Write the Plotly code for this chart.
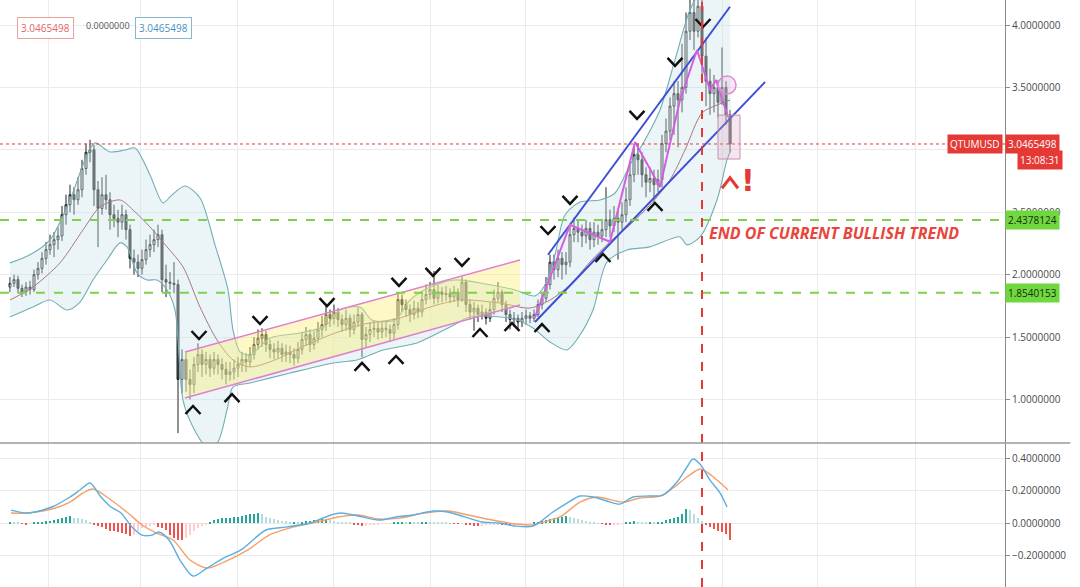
import plotly.graph_objects as go
from plotly.subplots import make_subplots

# ---------------- data (daily QTUMUSD, candle index on x) ----------------
OPEN_FIRST = 1.90
CLOSE = [1.93,1.96,1.89,1.86,1.90,1.88,2.00,2.05,2.13,2.20,
         2.24,2.28,2.31,2.48,2.56,2.64,2.60,2.68,2.85,2.98,
         3.00,2.68,2.53,2.64,2.60,2.48,2.45,2.42,2.48,2.36,
         2.13,2.10,2.05,2.12,2.20,2.24,2.28,2.32,1.96,1.94,
         1.93,1.92,1.16,1.32,1.16,1.12,1.28,1.36,1.28,1.32,
         1.25,1.32,1.28,1.24,1.20,1.22,1.25,1.28,1.32,1.30,
         1.36,1.44,1.49,1.52,1.44,1.40,1.38,1.41,1.36,1.38,
         1.36,1.33,1.40,1.48,1.52,1.44,1.49,1.56,1.60,1.68,
         1.65,1.70,1.64,1.60,1.65,1.56,1.62,1.68,1.48,1.52,
         1.56,1.57,1.54,1.57,1.56,1.53,1.60,1.80,1.76,1.72,
         1.68,1.73,1.70,1.80,1.84,1.88,1.81,1.86,1.84,1.85,
         1.82,1.86,1.80,1.94,1.76,1.70,1.73,1.68,1.70,1.65,
         1.72,1.81,1.86,1.76,1.68,1.64,1.65,1.62,1.65,1.67,
         1.65,1.68,1.76,1.81,1.92,2.10,2.04,2.13,2.08,2.10,
         2.32,2.37,2.34,2.31,2.37,2.28,2.34,2.31,2.36,2.44,
         2.39,2.45,2.42,2.48,2.60,2.80,2.96,2.92,2.80,2.74,
         2.77,2.72,2.76,3.05,3.15,3.35,3.45,3.40,3.50,3.95,
         4.10,3.95,4.15,3.75,3.55,3.45,3.50,3.38,3.50,3.28,
         3.0465498]
HIGH = [1.98,2.00,1.99,1.92,1.94,1.95,2.04,2.10,2.18,2.26,
        2.32,2.34,2.38,2.55,2.64,2.72,2.70,2.78,2.92,3.05,
        3.08,3.04,2.75,2.78,2.80,2.66,2.56,2.52,2.56,2.52,
        2.40,2.20,2.16,2.20,2.28,2.32,2.36,2.40,2.36,2.08,
        2.02,2.10,1.96,1.40,1.38,1.24,1.34,1.45,1.40,1.38,
        1.36,1.38,1.36,1.33,1.30,1.30,1.32,1.34,1.38,1.37,
        1.42,1.50,1.56,1.57,1.55,1.48,1.45,1.47,1.45,1.44,
        1.43,1.41,1.46,1.54,1.58,1.56,1.55,1.62,1.67,1.75,
        1.72,1.76,1.73,1.68,1.72,1.68,1.68,1.74,1.70,1.58,
        1.62,1.63,1.62,1.63,1.62,1.60,1.65,1.86,1.84,1.80,
        1.76,1.79,1.78,1.86,1.92,1.94,2.03,1.92,1.90,1.91,
        1.89,1.91,1.89,1.98,1.96,1.80,1.78,1.76,1.76,1.73,
        1.78,1.88,1.94,1.88,1.79,1.72,1.70,1.68,1.70,1.72,
        1.70,1.72,1.80,1.86,1.98,2.16,2.16,2.20,2.18,2.18,
        2.40,2.46,2.44,2.40,2.44,2.42,2.42,2.40,2.44,2.70,
        2.52,2.55,2.52,2.58,2.70,2.88,3.04,3.05,2.98,2.86,
        2.86,2.84,2.84,3.12,3.25,3.42,3.55,3.55,3.85,4.10,
        4.30,4.25,4.40,4.22,3.90,3.65,3.60,3.56,3.82,3.55,
        3.32]
LOW = [1.86,1.90,1.85,1.82,1.83,1.84,1.86,1.96,2.01,2.08,
       2.16,2.14,2.20,2.27,2.40,2.50,2.48,2.56,2.62,2.80,
       2.90,2.55,2.22,2.48,2.52,2.36,2.38,2.30,2.36,2.28,
       2.05,2.00,1.98,2.00,2.08,2.14,2.18,2.22,1.86,1.82,
       1.88,1.85,0.73,1.05,1.06,1.00,1.05,1.22,1.18,1.20,
       1.18,1.20,1.20,1.16,1.12,1.15,1.16,1.18,1.22,1.22,
       1.26,1.32,1.40,1.42,1.38,1.33,1.32,1.33,1.30,1.30,
       1.29,1.27,1.29,1.36,1.43,1.38,1.40,1.45,1.50,1.55,
       1.58,1.60,1.58,1.54,1.55,1.50,1.52,1.58,1.34,1.42,
       1.46,1.50,1.48,1.49,1.50,1.46,1.48,1.56,1.70,1.66,
       1.62,1.64,1.65,1.66,1.76,1.80,1.76,1.77,1.78,1.79,
       1.77,1.78,1.74,1.78,1.70,1.64,1.55,1.62,1.64,1.60,
       1.62,1.68,1.78,1.70,1.62,1.56,1.58,1.56,1.58,1.60,
       1.61,1.62,1.66,1.72,1.78,1.88,1.96,1.98,1.96,2.00,
       2.06,2.26,2.26,2.22,2.25,2.20,2.22,2.24,2.26,2.30,
       2.30,2.34,2.12,2.36,2.42,2.55,2.74,2.80,2.70,2.62,
       2.66,2.56,2.66,2.70,2.98,3.08,3.12,3.02,3.30,3.45,
       3.88,3.80,3.90,3.55,3.35,3.28,3.30,3.26,3.36,3.20,
       2.98]
HIST = [0.004,0.003,0.002,-0.003,-0.005,-0.004,0.002,0.005,0.008,0.012,
        0.015,0.02,0.025,0.03,0.038,0.042,0.035,0.03,0.025,0.02,
        0.01,-0.005,-0.015,-0.025,-0.035,-0.045,-0.05,-0.055,-0.06,-0.065,
        -0.075,-0.07,-0.045,-0.03,-0.02,-0.015,-0.01,-0.02,-0.03,-0.04,
        -0.07,-0.09,-0.1,-0.105,-0.09,-0.07,-0.05,-0.03,-0.015,-0.005,
        0.01,0.02,0.025,0.03,0.035,0.035,0.04,0.04,0.045,0.05,
        0.055,0.06,0.062,0.055,0.04,0.03,0.025,0.02,0.015,0.012,
        0.008,0.01,0.006,0.008,0.012,0.015,0.018,0.02,0.025,0.028,
        0.022,0.015,0.01,0.008,0.004,0.002,-0.005,-0.012,-0.018,-0.015,
        -0.008,-0.006,-0.005,-0.003,-0.002,-0.001,0.002,0.006,0.008,0.005,
        0.007,0.006,0.004,0.008,0.01,0.008,0.006,0.004,0.003,0.002,
        0.001,-0.002,-0.004,-0.003,-0.008,-0.012,-0.016,-0.018,-0.015,-0.012,
        -0.01,-0.008,-0.006,-0.008,-0.01,-0.012,-0.01,-0.008,-0.006,-0.004,
        -0.003,0.002,0.006,0.012,0.018,0.025,0.03,0.035,0.04,0.042,
        0.038,0.032,0.026,0.02,0.014,0.008,0.004,0.001,-0.003,-0.006,
        -0.008,-0.007,-0.005,-0.002,0.002,0.004,0.012,0.01,0.004,0.002,
        0.003,0.002,0.004,0.008,0.018,0.025,0.03,0.04,0.055,0.085,
        0.08,0.06,0.035,0.012,-0.012,-0.025,-0.035,-0.045,-0.055,-0.065,
        -0.1]

# MACD line / signal line (sampled read-outs, drawn as splines)
MACD_X = [0.25,4.5,10.5,15,17.5,20,22.75,25.25,27.75,30.5,33,35.5,37.25,39.75,42.5,45.75,
          49.25,53.5,57.75,64,69,75,80.25,82.75,87,92.25,96.5,100.75,106,109.5,113.75,118,
          122.25,126.5,130.75,132.5,135.75,139.25,142.5,145.75,149.25,152.5,155.75,160,163.25,
          166.75,169.25,170.75,172.5,175,177.5,179.25]
MACD_Y = [0.081,0.063,0.100,0.161,0.204,0.247,0.161,0.100,0.063,-0.023,-0.072,-0.072,-0.053,-0.102,
          -0.225,-0.323,-0.274,-0.212,-0.163,-0.041,-0.023,0.002,0.051,0.063,0.045,0.020,0.039,0.051,
          0.075,0.069,0.039,0.008,0.002,-0.017,-0.017,0.008,0.069,0.124,0.167,0.161,0.137,0.118,
          0.161,0.167,0.173,0.253,0.345,0.394,0.363,0.265,0.186,0.100]
SIGNAL_X = [0.25,4.5,10.5,15,18.25,20.75,25.25,29.5,33,36.5,40.75,45,49.25,53.5,59.5,64.75,70.75,
            76.75,82,87,92.25,97.5,103.5,109.5,114.5,120.5,126.5,130.75,132.5,137.5,142.5,146.75,
            153.25,157.5,162.5,165.75,169.25,172.5,174.25,176.75,179.5]
SIGNAL_Y = [0.063,0.063,0.088,0.130,0.186,0.210,0.143,0.063,-0.010,-0.059,-0.102,-0.225,-0.274,
            -0.237,-0.163,-0.072,-0.023,0.008,0.039,0.051,0.026,0.032,0.063,0.075,0.051,0.020,
            -0.004,-0.010,0.002,0.039,0.130,0.161,0.130,0.155,0.167,0.216,0.284,0.333,0.314,
            0.265,0.204]

# Bollinger bands (sampled read-outs)
BB_UP_X = [0,5,10,15,18.75,21.25,25,28.75,31.25,35,38.25,40.5,43.75,47.5,51.25,54.5,55.75,57.5,
           60,65,72.5,78.75,82.5,87.5,90.5,96.25,100,105,111.25,117.5,126.25,131.25,133.75,
           136.25,138.75,142.5,147.5,151.25,155,158.75,162.5,166.25,170,173.75,180]
BB_UP_Y = [2.094,2.159,2.279,2.599,2.919,3.055,2.983,2.999,3.015,2.799,2.575,2.639,2.710,2.614,
           2.238,1.878,1.556,1.380,1.356,1.492,1.532,1.588,1.716,1.740,1.636,1.636,1.796,1.901,
           1.957,1.933,1.877,1.829,1.917,2.159,2.478,2.582,2.598,2.654,2.879,3.079,3.319,3.720,
           4.120,4.320,4.400]
BB_LO_X = [0,5.75,10,14.25,17.5,20.75,24.25,27.5,29.25,31.75,34.25,36.75,39.25,41.25,43.25,45.75,
           48.75,51.75,54.25,55.75,60,70,80.75,86.75,93.25,101.75,110,115,122.5,126.75,130.75,
           135,139.25,142.5,145.75,149.25,154.25,160,167.5,169.25,172.5,176.75,179.25,180.25]
BB_LO_Y = [1.660,1.740,1.796,1.716,1.780,1.957,2.117,2.254,2.222,2.014,1.957,1.957,1.877,1.716,
           0.995,0.779,0.635,0.651,0.915,1.099,1.131,1.211,1.292,1.316,1.396,1.452,1.580,1.660,
           1.660,1.636,1.572,1.460,1.396,1.516,1.716,2.101,2.197,2.222,2.302,2.238,2.302,2.598,
           2.919,2.999]
BB_MID_X = [0,5.75,12.5,18.25,22.5,27.5,30.75,35,39.25,43.25,47.5,51.75,55.75,60,66.25,72.5,80,
            87.5,97.5,105,112.5,122.5,130,135,140,145,150,155,160,165,168.75,173,176.75,180]
BB_MID_Y = [1.796,1.901,2.094,2.358,2.542,2.598,2.518,2.382,2.222,2.062,1.740,1.476,1.316,1.260,
            1.316,1.412,1.516,1.596,1.652,1.740,1.796,1.772,1.732,1.796,1.917,2.101,2.263,2.399,
            2.558,2.758,2.999,3.295,3.359,3.399]

GREEN_LEVELS = [2.4378124, 1.8540153]
LAST_PRICE = 3.0465498
PRICE_TICKS = [1.0, 1.5, 2.0, 2.5, 3.0, 3.5, 4.0]
PRICE_TICK_TEXT = ['1.0000000', '1.5000000', '2.0000000', '2.5000000', '', '3.5000000', '4.0000000']
MACD_TICKS = [-0.2, 0.0, 0.2, 0.4]
MONTH_GRID = [9.5, 32.5, 56.75, 80.75, 105, 128.75, 153.25, 178, 201.75, 226.25]
SIGNAL_BAR = 173

# user drawings
CHANNEL_X = [43.75, 127.5, 127.5, 43.75, 43.75]
CHANNEL_Y = [1.380, 2.117, 1.756, 1.011, 1.380]
BLUE_UP_X = [134.5, 180]
BLUE_UP_Y = [2.159, 4.146]
BLUE_LO_X = [131.25, 188.75]
BLUE_LO_Y = [1.620, 3.543]
ZIGZAG_X = [131.25, 140, 150, 156.25, 162.5, 167.5, 171.75, 175, 176.5, 179.5]
ZIGZAG_Y = [1.660, 2.399, 2.263, 3.063, 2.702, 3.399, 3.800, 3.479, 3.559, 3.263]
TOP_MARK_X = [47.25, 62.5, 79.25, 97.25, 105.75, 113, 134.5, 140, 156.75, 166.25, 173.25]
TOP_MARK_Y = [1.516, 1.636, 1.780, 1.941, 2.021, 2.101, 2.357, 2.598, 3.279, 3.704, 4.016]
BOT_MARK_X = [45.75, 55.5, 88, 96.5, 117.5, 125.5, 133, 148.25, 161.25]
BOT_MARK_Y = [0.915, 1.011, 1.260, 1.316, 1.532, 1.580, 1.572, 2.133, 2.542]
WARN_MARK = (180, 2.734)
CIRCLE = (177, 3.447, 181.5, 3.591)
BOX = (177, 2.926, 182.5, 3.278)

# ---------------- figure ----------------
X = list(range(len(CLOSE)))
OPEN = [OPEN_FIRST] + CLOSE[:-1]

fig = make_subplots(rows=2, cols=1, shared_xaxes=True, vertical_spacing=0,
                    row_heights=[443, 144])

# Bollinger bands
fig.add_trace(go.Scatter(x=BB_UP_X, y=BB_UP_Y, mode='lines', line=dict(color='#72aeb4', width=1.1, shape='spline', smoothing=0.8)), row=1, col=1)
fig.add_trace(go.Scatter(x=BB_LO_X, y=BB_LO_Y, mode='lines', fill='tonexty', fillcolor='rgba(200,228,236,0.36)',
                         line=dict(color='#72aeb4', width=1.1, shape='spline', smoothing=0.8)), row=1, col=1)
fig.add_trace(go.Scatter(x=BB_MID_X, y=BB_MID_Y, mode='lines', line=dict(color='#a67a7a', width=1, shape='spline', smoothing=0.8)), row=1, col=1)

# candles
fig.add_trace(go.Candlestick(x=X, open=OPEN, high=HIGH, low=LOW, close=CLOSE, whiskerwidth=0,
                             increasing=dict(line=dict(color='#222222', width=1), fillcolor='#ffffff'),
                             decreasing=dict(line=dict(color='#222222', width=1), fillcolor='#4a4a4a')), row=1, col=1)

# yellow channel
fig.add_trace(go.Scatter(x=CHANNEL_X, y=CHANNEL_Y, mode='lines', fill='toself',
                         fillcolor='rgba(250,238,120,0.42)', line=dict(color='rgba(0,0,0,0)', width=0)), row=1, col=1)
fig.add_trace(go.Scatter(x=[CHANNEL_X[0], CHANNEL_X[1], None, CHANNEL_X[3], CHANNEL_X[2]],
                         y=[CHANNEL_Y[0], CHANNEL_Y[1], None, CHANNEL_Y[3], CHANNEL_Y[2]],
                         mode='lines', line=dict(color='#e07fcf', width=1.5)), row=1, col=1)

# blue trend channel
fig.add_trace(go.Scatter(x=BLUE_UP_X + [None] + BLUE_LO_X, y=BLUE_UP_Y + [None] + BLUE_LO_Y, mode='lines',
                         line=dict(color='#3d4fd3', width=2)), row=1, col=1)
# pink zigzag
fig.add_trace(go.Scatter(x=ZIGZAG_X, y=ZIGZAG_Y, mode='lines', line=dict(color='#d35fe0', width=2)), row=1, col=1)

# chevrons
HW, HH = 1.875, 0.032
def chevrons(xs, ys, up, hw=HW, hh=HH):
    px, py = [], []
    for x, y in zip(xs, ys):
        px += [x - hw, x, x + hw, None]
        if up:
            py += [y - hh, y + hh, y - hh, None]
        else:
            py += [y + hh, y - hh, y + hh, None]
    return px, py

tx, ty = chevrons(TOP_MARK_X, TOP_MARK_Y, up=False)
bx, by = chevrons(BOT_MARK_X, BOT_MARK_Y, up=True)
fig.add_trace(go.Scatter(x=tx + bx, y=ty + by, mode='lines', line=dict(color='#111111', width=2.5)), row=1, col=1)
wx, wy = chevrons([WARN_MARK[0]], [WARN_MARK[1]], up=True, hw=2.0, hh=0.042)
fig.add_trace(go.Scatter(x=wx, y=wy, mode='lines', line=dict(color='#e53935', width=3)), row=1, col=1)

# MACD histogram
colors = []
prev = 0.0
for h in HIST:
    if h >= 0:
        colors.append('#26a69a' if h >= prev else '#b2dfdb')
    else:
        colors.append('#ffcdd2' if h >= prev else '#ef5350')
    prev = h
fig.add_trace(go.Bar(x=X, y=HIST, marker=dict(color=colors, line=dict(width=0)), width=0.5), row=2, col=1)
fig.add_trace(go.Scatter(x=SIGNAL_X, y=SIGNAL_Y, mode='lines', line=dict(color='#f4a06a', width=1.4, shape='spline', smoothing=0.8)), row=2, col=1)
fig.add_trace(go.Scatter(x=MACD_X, y=MACD_Y, mode='lines', line=dict(color='#5aaee0', width=1.4, shape='spline', smoothing=0.8)), row=2, col=1)

# axes
GRID = '#ebebeb'
fig.update_xaxes(range=[-2.5, 248.75], tickvals=MONTH_GRID, showticklabels=False, showgrid=True,
                 gridcolor=GRID, zeroline=False, rangeslider_visible=False, ticks='', showline=False)
fig.update_yaxes(side='right', showgrid=True, gridcolor=GRID, zeroline=False, showline=True,
                 linecolor='#8a8a8a', linewidth=1, ticks='outside', ticklen=4, tickcolor='#8a8a8a',
                 tickfont=dict(family='Open Sans', size=10, color='#4a4a4a'), tickformat='.7f')
fig.update_yaxes(range=[0.6506, 4.2003], tickvals=PRICE_TICKS, ticktext=PRICE_TICK_TEXT, row=1, col=1)
fig.update_yaxes(range=[-0.390, 0.4919], tickvals=MACD_TICKS, row=2, col=1)

shapes = []
for lv in GREEN_LEVELS:
    shapes.append(dict(type='line', xref='paper', x0=0, x1=1, yref='y', y0=lv, y1=lv,
                       line=dict(color='#7fd14a', width=2, dash='dash')))
shapes.append(dict(type='line', xref='paper', x0=0, x1=1, yref='y', y0=LAST_PRICE, y1=LAST_PRICE,
                   line=dict(color='#e53935', width=1, dash='dot')))
shapes.append(dict(type='line', xref='x', x0=SIGNAL_BAR, x1=SIGNAL_BAR, yref='paper', y0=0, y1=1,
                   line=dict(color='#e53935', width=2, dash='dash')))
shapes.append(dict(type='line', xref='paper', x0=0, x1=1.065, yref='paper', y0=144/587, y1=144/587,
                   line=dict(color='#9a9a9a', width=1.5)))
shapes.append(dict(type='circle', xref='x', yref='y', x0=CIRCLE[0], y0=CIRCLE[1], x1=CIRCLE[2], y1=CIRCLE[3],
                   line=dict(color='#de8ad2', width=1.5), fillcolor='rgba(230,160,215,0.25)'))
shapes.append(dict(type='rect', xref='x', yref='y', x0=BOX[0], y0=BOX[1], x1=BOX[2], y1=BOX[3],
                   line=dict(color='#c690ae', width=1), fillcolor='rgba(225,160,190,0.28)'))

ann = []
# price scale labels
ann.append(dict(xref='paper', x=1.0, xanchor='left', yref='y', y=LAST_PRICE, text=f'{LAST_PRICE:.7f}',
                showarrow=False, bgcolor='#e53935', font=dict(family='Open Sans', size=10, color='white'), borderpad=2))
ann.append(dict(xref='paper', x=0.998, xanchor='right', yref='y', y=LAST_PRICE, text='QTUMUSD',
                showarrow=False, bgcolor='#e53935', font=dict(family='Open Sans', size=10, color='white'), borderpad=2))
ann.append(dict(xref='paper', x=1063/1005, xanchor='right', yref='y', y=LAST_PRICE, yshift=-16, text='13:08:31',
                showarrow=False, bgcolor='#e53935', font=dict(family='Open Sans', size=10, color='white'), borderpad=2))
for lv in GREEN_LEVELS:
    ann.append(dict(xref='paper', x=1.0, xanchor='left', yref='y', y=lv, text=f'{lv:.7f}', showarrow=False,
                    bgcolor='#6fd83e', font=dict(family='Open Sans', size=10, color='#1b2b12'), borderpad=2))
# legend values
ann.append(dict(xref='paper', x=17/1005, xanchor='left', yref='paper', y=1-17/587, text=f'{LAST_PRICE:.7f}',
                showarrow=False, bgcolor='white', bordercolor='#e9a29c', borderwidth=1, borderpad=3,
                font=dict(family='Open Sans', size=10, color='#e06666')))
ann.append(dict(xref='paper', x=84/1005, xanchor='left', yref='paper', y=1-17/587, text='0.0000000',
                showarrow=False, font=dict(family='Open Sans', size=9, color='#555555')))
ann.append(dict(xref='paper', x=135/1005, xanchor='left', yref='paper', y=1-17/587, text=f'{LAST_PRICE:.7f}',
                showarrow=False, bgcolor='white', bordercolor='#86b7d2', borderwidth=1, borderpad=3,
                font=dict(family='Open Sans', size=10, color='#4a90c2')))
# drawings text
ann.append(dict(xref='x', x=SIGNAL_BAR + 1.3, xanchor='left', yref='y', y=2.333,
                text='<b><i>END OF CURRENT BULLISH TREND</i></b>', showarrow=False,
                font=dict(family='Open Sans', size=16, color='#e8453c')))
ann.append(dict(xref='x', x=184.5, yref='y', y=2.757, text='<b>!</b>', showarrow=False,
                font=dict(family='DejaVu Sans', size=30, color='#e53935')))

fig.update_layout(width=1080, height=587, margin=dict(l=0, r=75, t=0, b=0), showlegend=False,
                  plot_bgcolor='white', paper_bgcolor='white', hovermode=False, bargap=0,
                  shapes=shapes, annotations=ann)

fig.write_html("out.html", config={'displayModeBar': False},
               post_script="document.body.style.margin='0';")
